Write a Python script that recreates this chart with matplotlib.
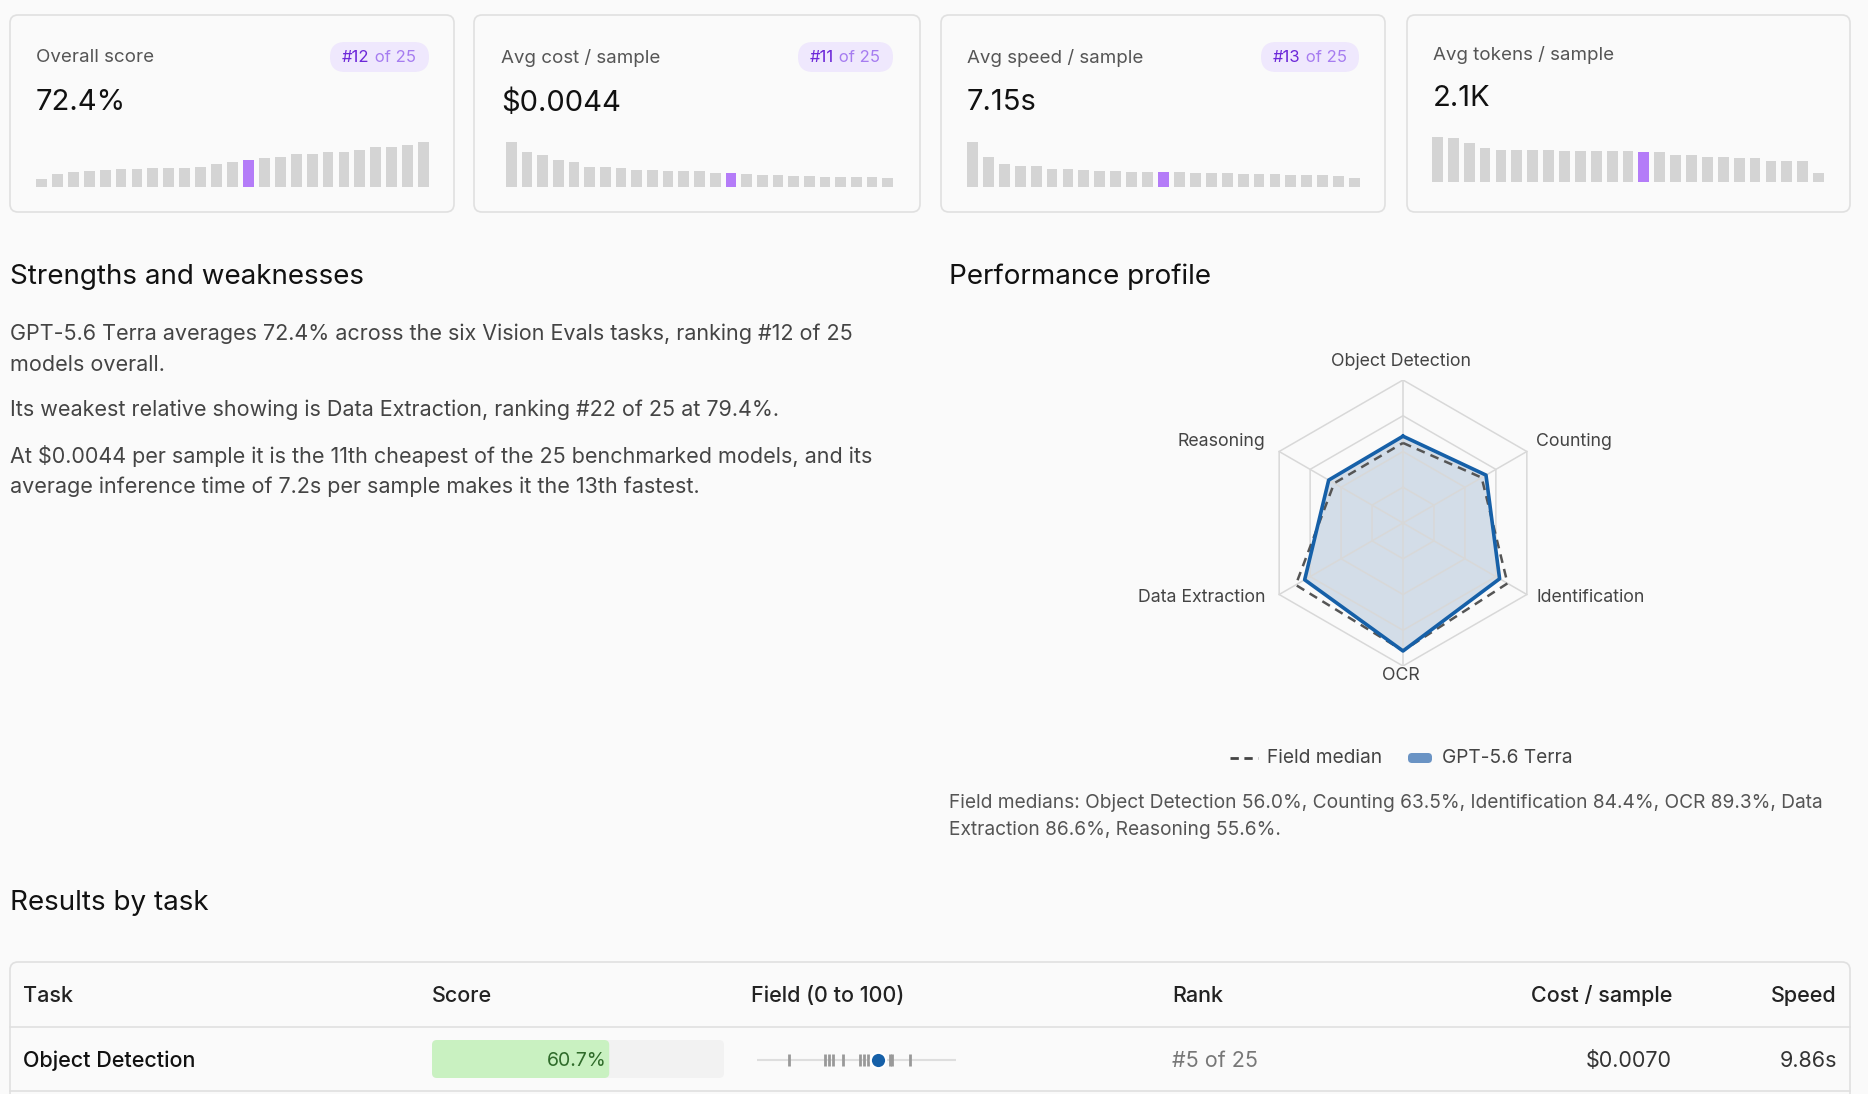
import matplotlib
matplotlib.use("Agg")
import matplotlib.pyplot as plt
import numpy as np
from matplotlib.patches import FancyBboxPatch

plt.rcParams['font.family'] = ['Inter', 'DejaVu Sans']

W, H = 1868, 1094
BG = '#fafafa'

# ---------------- data ----------------
score_bars = [25,38,44,47,50,53,53,56,56,56,60,68,74,80,86,89,97,98,104,104,110,119,119,125,134]
cost_bars = [134,104,95,80,74,59,59,56,50,50,47,47,47,41,41,38,35,35,32,32,29,29,29,29,26]
speed_bars = [134,89,68,62,62,53,53,50,47,47,44,44,44,44,41,41,41,38,38,38,35,35,35,32,26]
token_bars = [134,131,116,101,95,95,95,95,92,92,92,92,92,89,89,80,80,74,74,71,71,62,62,62,26]
highlight_idx = [13, 14, 12, 13]
card_titles = ["Overall score", "Avg cost / sample", "Avg speed / sample", "Avg tokens / sample"]
card_values = ["72.4%", "$0.0044", "7.15s", "2.1K"]
card_ranks = ["#12", "#11", "#13", None]

axes_labels = ["Object Detection", "Counting", "Identification", "OCR", "Data Extraction", "Reasoning"]
model_scores = [60.7, 67.0, 78.0, 89.5, 79.4, 60.0]
field_medians = [56.0, 63.5, 84.4, 89.3, 86.6, 55.6]

field_od = [16, 34, 36, 38, 43, 52, 54, 56, 67, 68, 77]
row_task, row_score, row_rank, row_cost, row_speed = "Object Detection", 60.7, "#5 of 25", "$0.0070", "9.86s"

fig = plt.figure(figsize=(W/100, H/100), dpi=100, facecolor=BG)
ax = fig.add_axes([0, 0, 1, 1])
ax.set_xlim(0, W); ax.set_ylim(H, 0); ax.axis('off')

def px_axes(x0, y0, x1, y1):
    return fig.add_axes([x0/W, 1-y1/H, (x1-x0)/W, (y1-y0)/H])

def card(x0, x1, y0=15, y1=212):
    ax.add_patch(FancyBboxPatch((x0, y0), x1-x0, y1-y0, boxstyle="round,pad=0,rounding_size=8",
                                fc=BG, ec='#e0e0e0', lw=1.2))

cards = [(10, 454), (474, 920), (941, 1385), (1407, 1850)]
bar_x = [(36, 429), (506, 893), (967, 1360), (1432, 1824)]
title_x = [36, 501, 967, 1433]
badge_x = [(330, 429), (798, 893), (1261, 1359), None]
bars_all = [score_bars, cost_bars, speed_bars, token_bars]
for i in range(4):
    card(*cards[i])
    ty = 55 if i == 3 else 58
    vy = 98 if i == 3 else 103
    ax.text(title_x[i], ty, card_titles[i], fontsize=13.5, color='#555', va='center')
    ax.text(title_x[i], vy, card_values[i], fontsize=21, color='#111', va='center')
    if badge_x[i]:
        bx0, bx1 = badge_x[i]
        ax.add_patch(FancyBboxPatch((bx0, 42), bx1-bx0, 30, boxstyle="round,pad=0,rounding_size=15",
                                    fc='#efe8fd', ec='none'))
        t = ax.text(bx0 + 12, 57, card_ranks[i], fontsize=12, color='#6d28d9', va='center', ha='left')
        ax.annotate(" of 25", xy=(1, 0.5), xycoords=t, fontsize=12, color='#a67cf0', va='center', ha='left')
    base = 182 if i == 3 else 187
    a = px_axes(bar_x[i][0], base-45, bar_x[i][1], base)
    vals = bars_all[i]
    cols = ['#b47cf8' if j == highlight_idx[i] else '#d4d4d4' for j in range(len(vals))]
    a.bar(range(len(vals)), vals, width=0.68, color=cols)
    a.set_xlim(-0.34, len(vals)-0.66); a.set_ylim(0, max(vals)); a.axis('off')

# ---------------- Strengths ----------------
ax.text(10, 277, "Strengths and weaknesses", fontsize=20, color='#111', va='center')
para = [(334, "GPT-5.6 Terra averages 72.4% across the six Vision Evals tasks, ranking #12 of 25"),
        (365, "models overall."),
        (410, "Its weakest relative showing is Data Extraction, ranking #22 of 25 at 79.4%."),
        (456, "At $0.0044 per sample it is the 11th cheapest of the 25 benchmarked models, and its"),
        (487, "average inference time of 7.2s per sample makes it the 13th fastest.")]
for y, s in para:
    ax.text(10, y, s, fontsize=15.5, color='#444', va='center')

# ---------------- Radar ----------------
ax.text(949, 277, "Performance profile", fontsize=20, color='#111', va='center')
cx, cy, R = 1403, 523, 143
ra = px_axes(cx-R, cy-R, cx+R, cy+R)
ra.set_xlim(-100, 100); ra.set_ylim(-100, 100); ra.axis('off')
ang = np.pi/2 - np.arange(6)*np.pi/3
aa = np.append(ang, ang[0])
ms = np.array(model_scores + model_scores[:1]); fm = np.array(field_medians + field_medians[:1])
ra.fill(ms*np.cos(aa), ms*np.sin(aa), color='#b3c6da', alpha=0.55, lw=0, zorder=1)
for lvl in [25, 50, 75, 100]:
    ra.plot(lvl*np.cos(aa), lvl*np.sin(aa), color='#d8d8d8', lw=1.1, zorder=2)
for a_ in ang:
    ra.plot([0, 100*np.cos(a_)], [0, 100*np.sin(a_)], color='#d8d8d8', lw=1.1, zorder=2)
ra.plot(fm*np.cos(aa), fm*np.sin(aa), color='#555', lw=1.8, ls=(0, (3.5, 2.5)), zorder=3)
ra.plot(ms*np.cos(aa), ms*np.sin(aa), color='#1660a8', lw=2.6, zorder=4)
lab_pos = [(1401, 362, 'center'), (1536, 441, 'left'), (1536, 597, 'left'),
           (1401, 676, 'center'), (1265, 597, 'right'), (1265, 441, 'right')]
for (x, y, ha), s in zip(lab_pos, axes_labels):
    ax.text(x, y, s, fontsize=12.8, color='#444', ha=ha, va='center')
ax.plot([1230, 1258], [758, 758], color='#444', lw=2, ls=(0, (3, 2)))
ax.text(1267, 758, "Field median", fontsize=13.8, color='#444', va='center')
ax.add_patch(FancyBboxPatch((1408, 753), 24, 10, boxstyle="round,pad=0,rounding_size=4", fc='#6a93c4', ec='none'))
ax.text(1442, 758, "GPT-5.6 Terra", fontsize=13.8, color='#444', va='center')
ax.text(949, 803, "Field medians: Object Detection 56.0%, Counting 63.5%, Identification 84.4%, OCR 89.3%, Data",
        fontsize=13.8, color='#555', va='center')
ax.text(949, 830, "Extraction 86.6%, Reasoning 55.6%.", fontsize=13.8, color='#555', va='center')

# ---------------- Table ----------------
ax.text(10, 903, "Results by task", fontsize=20, color='#111', va='center')
ax.add_patch(FancyBboxPatch((10, 962), 1840, 160, boxstyle="round,pad=0,rounding_size=8", fc=BG, ec='#e0e0e0', lw=1.2))
ax.plot([10, 1850], [1027, 1027], color='#e0e0e0', lw=1.2)
ax.plot([10, 1850], [1091, 1091], color='#e0e0e0', lw=1.2)
hy = 996
for x, s, ha in [(23, "Task", 'left'), (432, "Score", 'left'), (751, "Field (0 to 100)", 'left'),
                 (1172, "Rank", 'left'), (1672, "Cost / sample", 'right'), (1837, "Speed", 'right')]:
    ax.text(x, hy, s, fontsize=15.5, color='#222', ha=ha, va='center', fontweight='medium')
ry = 1061
ax.text(23, ry, row_task, fontsize=15.5, color='#111', va='center', fontweight='medium')
ax.add_patch(FancyBboxPatch((432, 1040), 292, 38, boxstyle="round,pad=0,rounding_size=5", fc='#f2f2f2', ec='none'))
ax.add_patch(FancyBboxPatch((432, 1040), 292*row_score/100, 38, boxstyle="round,pad=0,rounding_size=5", fc='#c9f1c1', ec='none'))
ax.text(432 + 292*row_score/100 - 3, ry, f"{row_score:.1f}%", fontsize=14, color='#2f6b2a', ha='right', va='center')
fa = px_axes(757, 1045, 956, 1075)
fa.set_xlim(0, 100); fa.set_ylim(-1, 1); fa.axis('off')
fa.plot([0, 100], [0, 0], color='#dedede', lw=1.5)
fa.vlines(field_od, -0.4, 0.4, color='#999', lw=2)
fa.plot([row_score], [0], 'o', color='#1660a8', ms=11, mec='white', mew=1.5)
ax.text(1172, ry, row_rank, fontsize=15.5, color='#777', va='center')
ax.text(1672, ry, row_cost, fontsize=15.5, color='#333', ha='right', va='center')
ax.text(1837, ry, row_speed, fontsize=15.5, color='#333', ha='right', va='center')

fig.savefig("out.png", dpi=100, facecolor=BG)
